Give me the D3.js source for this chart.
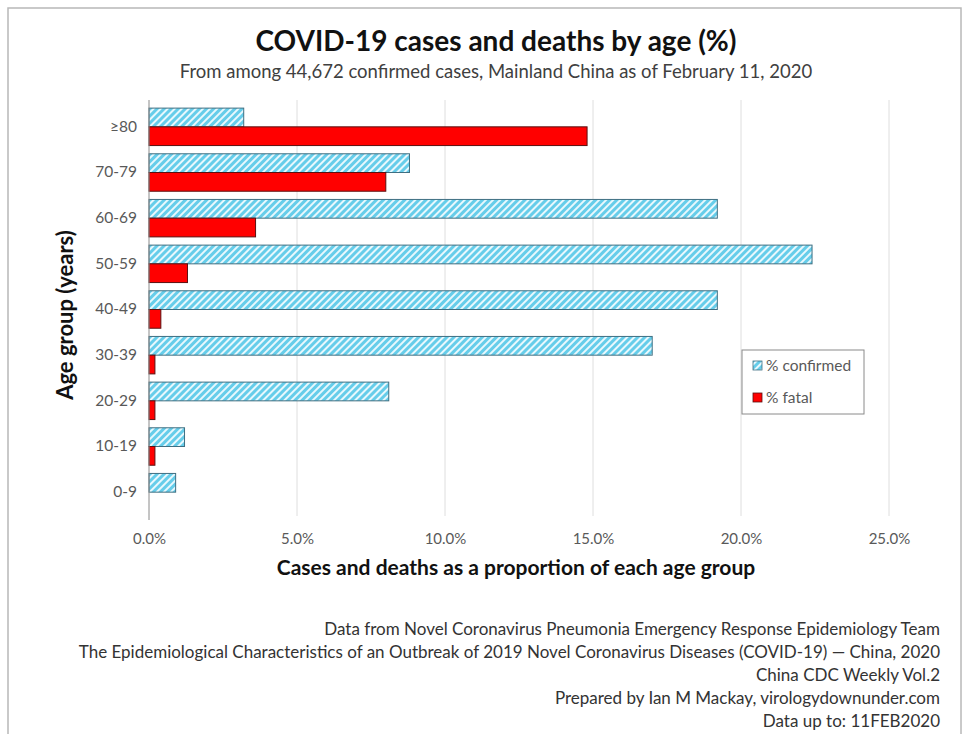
<!DOCTYPE html>
<html>
<head>
<meta charset="utf-8">
<script src="https://cdn.jsdelivr.net/npm/d3@7"></script>
<style>
  body { margin: 0; background: #fff; }
  svg { display: block; font-family: Lato, "Open Sans", sans-serif; }
</style>
</head>
<body>
<script>
// age groups, top to bottom as drawn
const ageGroups = ['≥80', '70-79', '60-69', '50-59', '40-49', '30-39', '20-29', '10-19', '0-9'];
// % of confirmed cases in each group
const confirmed = [3.2, 8.8, 19.2, 22.4, 19.2, 17.0, 8.1, 1.2, 0.9];
// % fatal (case fatality) in each group
const fatal = [14.8, 8.0, 3.6, 1.3, 0.4, 0.2, 0.2, 0.2, 0.0];
const xTicks = [0, 5, 10, 15, 20, 25];
const seriesNames = ['% confirmed', '% fatal'];
const footer = [
  'Data from Novel Coronavirus Pneumonia Emergency Response Epidemiology Team',
  'The Epidemiological Characteristics of an Outbreak of 2019 Novel Coronavirus Diseases (COVID-19) — China, 2020',
  'China CDC Weekly Vol.2',
  'Prepared by Ian M Mackay, virologydownunder.com',
  'Data up to: 11FEB2020'
];

const width = 970, height = 734;
const margin = {top: 104, right: 81, bottom: 219, left: 149};

const rows = ageGroups.map((g, i) => ({group: g, values: [confirmed[i], fatal[i]]}));

const svg = d3.select('body').append('svg')
  .attr('width', width)
  .attr('height', height);

// hatch for the confirmed bars
const defs = svg.append('defs');
const pat = defs.append('pattern')
  .attr('id', 'hatch')
  .attr('patternUnits', 'userSpaceOnUse')
  .attr('width', 5).attr('height', 5)
  .attr('patternTransform', 'rotate(45)');
pat.append('rect').attr('width', 5).attr('height', 5).attr('fill', '#e8f8fd');
pat.append('rect').attr('width', 3).attr('height', 5).attr('fill', '#66cdea');

// outer frame
svg.append('rect')
  .attr('x', 8).attr('y', 8)
  .attr('width', 953).attr('height', 740)
  .attr('fill', 'none')
  .attr('stroke', '#b8b8b8')
  .attr('stroke-width', 1.5);

const xScale = d3.scaleLinear()
  .domain([0, 25])
  .range([margin.left, width - margin.right]);

const yScale = d3.scaleBand()
  .domain(ageGroups)
  .range([margin.top, height - margin.bottom])
  .paddingInner(0.18)
  .paddingOuter(0.09);

const sub = d3.scaleBand()
  .domain([0, 1])
  .range([0, yScale.bandwidth()]);

// gridlines
svg.append('g')
  .selectAll('line')
  .data(xTicks.slice(1))
  .join('line')
  .attr('x1', d => xScale(d)).attr('x2', d => xScale(d))
  .attr('y1', 100).attr('y2', 516)
  .attr('stroke', '#dedede')
  .attr('stroke-width', 1);

// bars
const groups = svg.append('g')
  .selectAll('g')
  .data(rows)
  .join('g')
  .attr('transform', d => `translate(0,${yScale(d.group)})`);

groups.selectAll('rect')
  .data(d => d.values.map((v, k) => ({k: k, v: v})).filter(e => e.v > 0))
  .join('rect')
  .attr('x', xScale(0))
  .attr('y', d => sub(d.k))
  .attr('width', d => xScale(d.v) - xScale(0))
  .attr('height', sub.bandwidth())
  .attr('fill', d => d.k === 0 ? 'url(#hatch)' : '#ff0000')
  .attr('stroke', d => d.k === 0 ? '#3f6f82' : '#5a1010')
  .attr('stroke-width', 1);

// Y axis
const yAxis = d3.axisLeft(yScale).tickSize(0).tickPadding(12);
const gy = svg.append('g')
  .attr('transform', `translate(${margin.left},0)`)
  .call(yAxis);
gy.select('.domain').attr('stroke', '#8a8a8a').attr('d', 'M0,100V520');
gy.selectAll('text')
  .attr('font-size', 15.5)
  .attr('fill', '#595959')
  .attr('font-family', 'Lato, sans-serif');

// X axis (labels only)
const xAxis = d3.axisBottom(xScale)
  .tickValues(xTicks)
  .tickSize(0)
  .tickFormat(d => d.toFixed(1) + '%');
const gx = svg.append('g')
  .attr('transform', `translate(0,530)`)
  .call(xAxis);
gx.select('.domain').remove();
gx.selectAll('text')
  .attr('font-size', 15)
  .attr('fill', '#595959')
  .attr('font-family', 'Lato, sans-serif');

// titles
svg.append('text')
  .attr('x', 496).attr('y', 51)
  .attr('text-anchor', 'middle')
  .attr('font-size', 28)
  .attr('font-weight', 'bold')
  .attr('fill', '#111')
  .text('COVID-19 cases and deaths by age (%)');

svg.append('text')
  .attr('x', 496).attr('y', 78)
  .attr('text-anchor', 'middle')
  .attr('font-size', 18.5)
  .attr('fill', '#404040')
  .text('From among 44,672 confirmed cases, Mainland China as of February 11, 2020');

svg.append('text')
  .attr('x', 516).attr('y', 575)
  .attr('text-anchor', 'middle')
  .attr('font-size', 21)
  .attr('font-weight', 'bold')
  .attr('fill', '#111')
  .text('Cases and deaths as a proportion of each age group');

svg.append('text')
  .attr('transform', 'translate(73,315) rotate(-90)')
  .attr('text-anchor', 'middle')
  .attr('font-size', 22)
  .attr('font-weight', 'bold')
  .attr('fill', '#111')
  .text('Age group (years)');

// legend
const legend = svg.append('g').attr('transform', 'translate(742,350)');
legend.append('rect')
  .attr('width', 122).attr('height', 64)
  .attr('fill', '#fff')
  .attr('stroke', '#8a8a8a');
const items = legend.selectAll('g.item')
  .data(seriesNames)
  .join('g')
  .attr('class', 'item')
  .attr('transform', (d, i) => `translate(11,${16 + i * 32})`);
items.append('rect')
  .attr('x', 0).attr('y', -5)
  .attr('width', 9).attr('height', 9)
  .attr('fill', (d, i) => i === 0 ? 'url(#hatch)' : '#ff0000')
  .attr('stroke', (d, i) => i === 0 ? '#3f6f82' : '#5a1010')
  .attr('stroke-width', 0.8);
items.append('text')
  .attr('x', 13).attr('y', 5)
  .attr('font-size', 15.5)
  .attr('fill', '#595959')
  .text(d => d);

// footer
svg.append('g')
  .selectAll('text')
  .data(footer)
  .join('text')
  .attr('x', 940)
  .attr('y', (d, i) => 635 + i * 23)
  .attr('text-anchor', 'end')
  .attr('font-size', 17)
  .attr('fill', '#333')
  .text(d => d);
</script>
</body>
</html>
